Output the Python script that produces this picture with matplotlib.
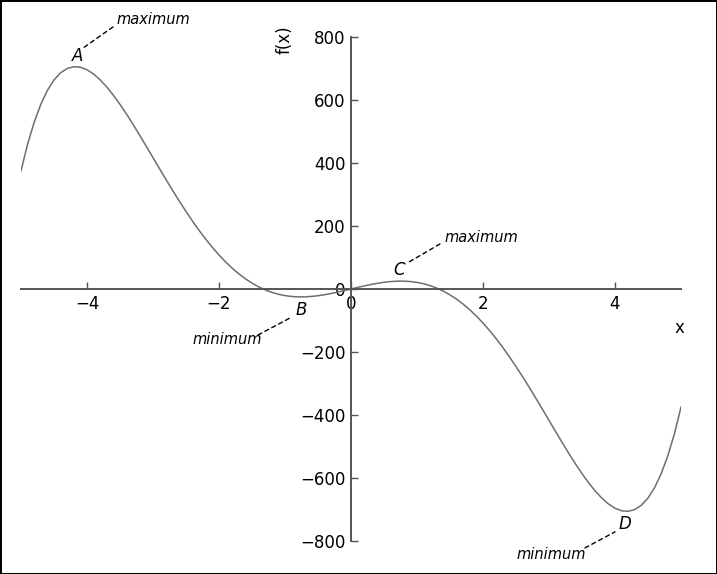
import matplotlib
matplotlib.use("Agg")
import matplotlib.pyplot as plt

# Curve samples (x from -5 to 5)
x_vals = [-5.0, -4.9, -4.8, -4.7, -4.6, -4.5, -4.4, -4.3, -4.2, -4.1,
          -4.0, -3.9, -3.8, -3.7, -3.6, -3.5, -3.4, -3.3, -3.2, -3.1,
          -3.0, -2.9, -2.8, -2.7, -2.6, -2.5, -2.4, -2.3, -2.2, -2.1,
          -2.0, -1.9, -1.8, -1.7, -1.6, -1.5, -1.4, -1.3, -1.2, -1.1,
          -1.0, -0.9, -0.8, -0.7, -0.6, -0.5, -0.4, -0.3, -0.2, -0.1,
          0.0, 0.1, 0.2, 0.3, 0.4, 0.5, 0.6, 0.7, 0.8, 0.9,
          1.0, 1.1, 1.2, 1.3, 1.4, 1.5, 1.6, 1.7, 1.8, 1.9,
          2.0, 2.1, 2.2, 2.3, 2.4, 2.5, 2.6, 2.7, 2.8, 2.9,
          3.0, 3.1, 3.2, 3.3, 3.4, 3.5, 3.6, 3.7, 3.8, 3.9,
          4.0, 4.1, 4.2, 4.3, 4.4, 4.5, 4.6, 4.7, 4.8, 4.9, 5.0]
y_vals = [375.0, 459.7, 529.7, 586.2, 630.5, 663.5, 686.4, 700.1, 705.7, 704.1,
          696.0, 682.3, 663.8, 641.2, 615.0, 586.0, 554.8, 521.8, 487.5, 452.4,
          417.0, 381.6, 346.5, 312.0, 278.5, 246.1, 215.1, 185.6, 157.9, 132.0,
          108.0, 86.0, 66.1, 48.2, 32.4, 18.7, 6.9, -2.8, -10.6, -16.7,
          -21.0, -23.7, -25.0, -24.9, -23.6, -21.3, -18.1, -14.2, -9.8, -5.0,
          0.0, 5.0, 9.8, 14.2, 18.1, 21.3, 23.6, 24.9, 25.0, 23.7,
          21.0, 16.7, 10.6, 2.8, -6.9, -18.7, -32.4, -48.2, -66.1, -86.0,
          -108.0, -132.0, -157.9, -185.6, -215.1, -246.1, -278.5, -312.0, -346.5, -381.6,
          -417.0, -452.4, -487.5, -521.8, -554.8, -586.0, -615.0, -641.2, -663.8, -682.3,
          -696.0, -704.1, -705.7, -700.1, -686.4, -663.5, -630.5, -586.2, -529.7, -459.7, -375.0]

x_ticks = [-4, -2, 0, 2, 4]
y_ticks = [-800, -600, -400, -200, 0, 200, 400, 600, 800]

# Annotations: letter, letter pos, text, line start, line end, text pos
labels = ["A", "B", "C", "D"]
label_pos = [(-4.136, 740), (-0.758, -67), (0.727, 60), (4.152, -746)]
notes = ["maximum", "minimum", "maximum", "minimum"]
note_pos = [(-3.0, 854), (-1.88, -159), (1.97, 162), (3.03, -844)]
line_start = [(-4.06, 765), (-0.924, -92), (0.848, 82), (4.0, -771)]
line_end = [(-3.606, 832), (-1.409, -146), (1.348, 143), (3.545, -822)]

fig = plt.figure(figsize=(7.17, 5.74), dpi=100)
fig.patch.set_edgecolor("black")
fig.patch.set_linewidth(2)
ax = fig.add_axes([21/717, 33/574, 660/717, 504/574])

ax.plot(x_vals, y_vals, color="#6e6e6e", linewidth=1.1)
ax.set_xlim(-5, 5)
ax.set_ylim(-800, 800)

for s in ["top", "right"]:
    ax.spines[s].set_visible(False)
ax.spines["left"].set_position("zero")
ax.spines["bottom"].set_position("zero")
for s in ["left", "bottom"]:
    ax.spines[s].set_color("#555555")
    ax.spines[s].set_linewidth(1.4)

ax.set_xticks(x_ticks)
ax.set_yticks(y_ticks)
ax.set_xticklabels(["\u2212" + str(-t) if t < 0 else str(t) for t in x_ticks])
ax.set_yticklabels(["\u2212" + str(-t) if t < 0 else str(t) for t in y_ticks])
ax.tick_params(direction="in", length=5, width=1, color="#555555",
               labelsize=12, pad=4)
ax.patch.set_alpha(0)

fig.text(285/717, 1 - 40/574, "f(x)", rotation=90, fontsize=12,
         ha="center", va="center")
fig.text(679/717, 1 - 328/574, "x", fontsize=12, ha="center", va="center")

for lab, lp, nt, npos, ls, le in zip(labels, label_pos, notes, note_pos,
                                      line_start, line_end):
    ax.text(lp[0], lp[1], lab, fontsize=12, style="italic",
            ha="center", va="center", clip_on=False)
    ax.text(npos[0], npos[1], nt, fontsize=10.5, style="italic",
            ha="center", va="center", clip_on=False)
    ax.annotate("", xy=ls, xytext=le, annotation_clip=False,
                arrowprops=dict(arrowstyle="-", linestyle=(0, (3, 2.6)),
                                color="black", linewidth=1.0,
                                shrinkA=0, shrinkB=0))

fig.savefig("out.png", dpi=100)
